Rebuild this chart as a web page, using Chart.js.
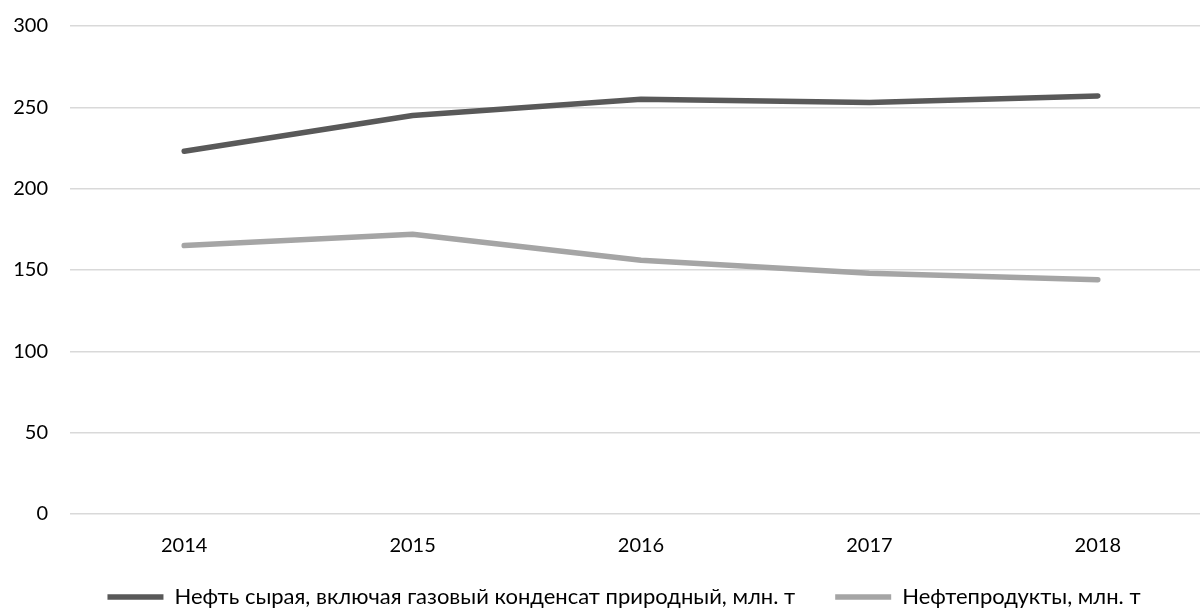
<!DOCTYPE html>
<html>
<head>
<meta charset="utf-8">
<script src="https://cdn.jsdelivr.net/npm/chart.js@4/dist/chart.umd.min.js"></script>
<style>
  html, body { margin: 0; padding: 0; background: #ffffff; overflow: hidden; }
  #wrap { width: 1212px; height: 610px; }
</style>
</head>
<body>
<div id="wrap"><canvas id="chart"></canvas></div>
<script>
// Export volumes by year
const years = ['2014', '2015', '2016', '2017', '2018'];
const crudeOil = [223, 245, 255, 253, 257];
const petroleumProducts = [165, 172, 156, 148, 144];
const seriesNames = [
  'Нефть сырая, включая газовый конденсат природный, млн. т',
  'Нефтепродукты, млн. т'
];
const yMin = 0, yMax = 300, yStep = 50;

const FONT = 'Lato, "Open Sans", sans-serif';

// Position the legend row: nudge it right and pull it up a little
const legendShift = {
  id: 'legendShift',
  afterUpdate(chart) {
    const lg = chart.legend;
    if (lg) {
      lg.right += 36;
      lg.top -= 12;
      lg.bottom -= 12;
    }
  }
};

new Chart(document.getElementById('chart'), {
  type: 'line',
  data: {
    labels: years,
    datasets: [
      {
        label: seriesNames[0],
        data: crudeOil,
        borderColor: '#595959',
        backgroundColor: '#595959',
        borderWidth: 5.5,
        borderCapStyle: 'round',
        borderJoinStyle: 'round',
        pointRadius: 0,
        tension: 0
      },
      {
        label: seriesNames[1],
        data: petroleumProducts,
        borderColor: '#a5a5a5',
        backgroundColor: '#a5a5a5',
        borderWidth: 5.5,
        borderCapStyle: 'round',
        borderJoinStyle: 'round',
        pointRadius: 0,
        tension: 0
      }
    ]
  },
  options: {
    responsive: true,
    maintainAspectRatio: false,
    animation: false,
    layout: { padding: { top: 26, right: 0, bottom: -20, left: 0 } },
    plugins: {
      tooltip: { enabled: false },
      legend: {
        position: 'bottom',
        labels: {
          usePointStyle: true,
          pointStyle: 'line',
          pointStyleWidth: 56,
          boxHeight: 5,
          padding: 40,
          color: '#000000',
          font: { family: FONT, size: 22 }
        }
      }
    },
    scales: {
      x: {
        offset: true,
        afterFit(scale) { scale.height = 44; },
        grid: { display: false, drawTicks: false },
        border: { display: false },
        ticks: { color: '#000000', padding: 20, font: { family: FONT, size: 20 } }
      },
      y: {
        min: yMin,
        max: yMax,
        afterFit(scale) {
          scale.width = 70;
          scale.paddingTop = 0;
          scale.paddingBottom = 0;
        },
        grid: { color: '#d9d9d9', lineWidth: 1.5, drawTicks: false },
        border: { display: false },
        ticks: { stepSize: yStep, color: '#000000', padding: 22, font: { family: FONT, size: 20 } }
      }
    }
  },
  plugins: [legendShift]
});
</script>
</body>
</html>
